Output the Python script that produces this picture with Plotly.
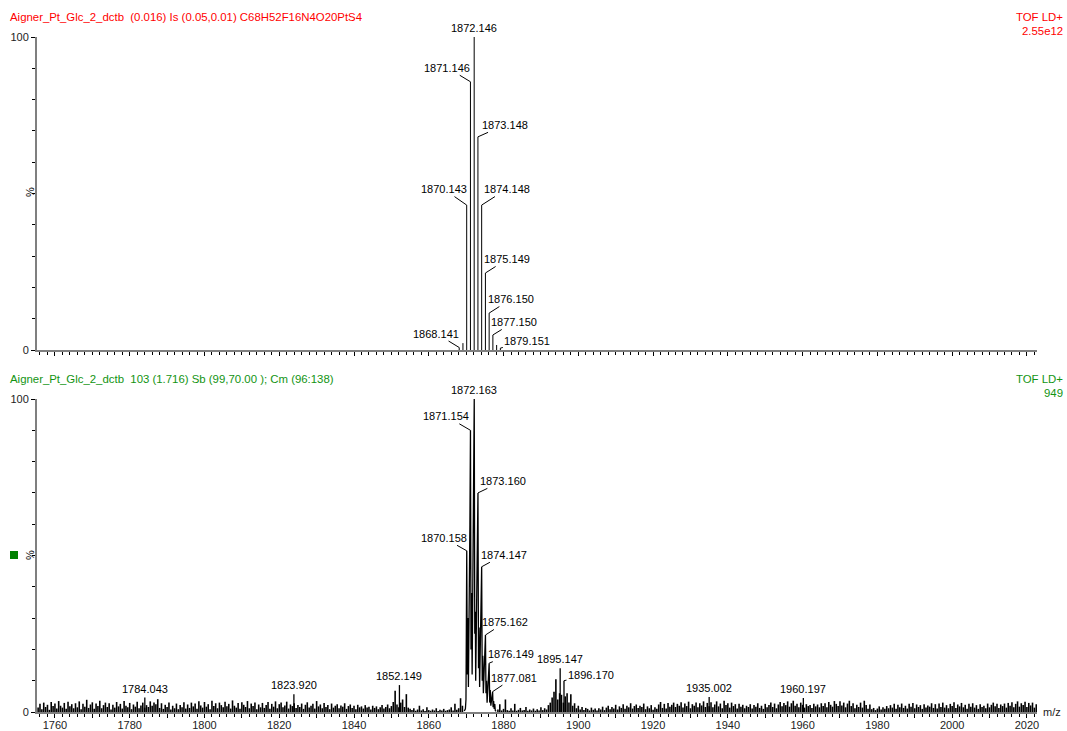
import numpy as np
import plotly.graph_objects as go

# ---------------- data ----------------
# top panel: theoretical isotope pattern (stick spectrum)
top_mz = [1868.141, 1869.14, 1870.143, 1871.146, 1872.146, 1873.148, 1874.148,
          1875.149, 1876.150, 1877.150, 1878.15, 1879.151]
top_int = [0.8, 2.2, 46.3, 85.7, 100.0, 68.1, 46.3, 24.6, 11.8, 4.8, 1.6, 0.6]

# top labels: (m/z, intensity) for labelled peaks
top_lab_mz = [1872.146, 1871.146, 1873.148, 1870.143, 1874.148, 1875.149,
              1876.150, 1877.150, 1879.151, 1868.141]
top_lab_int = [100.0, 85.7, 68.1, 46.3, 46.3, 24.6, 11.8, 4.8, 0.6, 0.8]

# bottom panel: measured spectrum, isotope cluster profile
clu_mz = [1869.5, 1869.8, 1869.95, 1870.05, 1870.158, 1870.3, 1870.45, 1870.6, 1870.75,
          1870.9, 1871.0, 1871.154, 1871.3, 1871.45, 1871.6, 1871.75, 1871.9, 1872.0,
          1872.163, 1872.3, 1872.45, 1872.55, 1872.7, 1872.85, 1873.0, 1873.160, 1873.3,
          1873.45, 1873.6, 1873.75, 1873.9, 1874.0, 1874.147, 1874.3, 1874.45, 1874.6,
          1874.75, 1874.9, 1875.0, 1875.162, 1875.3, 1875.45, 1875.6, 1875.75, 1875.9,
          1876.0, 1876.149, 1876.3, 1876.45, 1876.6, 1876.75, 1876.9, 1877.0, 1877.081,
          1877.2, 1877.35, 1877.5, 1877.65, 1877.8, 1878.0]
clu_int = [0.3, 1.0, 4.0, 30.0, 51.5, 12.0, 30.0, 8.0, 22.0,
           40.0, 60.0, 90.0, 20.0, 38.0, 12.0, 30.0, 55.0, 80.0,
           100.0, 25.0, 32.0, 10.0, 28.0, 45.0, 62.0, 70.0, 14.0,
           27.0, 8.0, 20.0, 35.0, 44.0, 46.4, 10.0, 18.0, 6.0,
           12.0, 20.0, 24.0, 24.6, 6.0, 10.0, 3.0, 8.0, 13.0,
           15.0, 15.6, 3.0, 7.0, 2.0, 4.0, 5.0, 6.0, 6.5,
           1.5, 3.5, 1.0, 2.5, 0.5, 0.2]

# bottom: labelled peaks
bot_lab_mz = [1872.163, 1871.154, 1873.160, 1870.158, 1874.147, 1875.162, 1876.149,
              1877.081, 1852.149, 1784.043, 1823.920, 1895.147, 1896.170, 1935.002,
              1960.197]
bot_lab_int = [100.0, 90.0, 70.0, 51.5, 46.4, 24.6, 15.6, 6.5, 8.6, 4.6, 5.7, 14.0,
               10.0, 4.8, 4.5]

# bottom: baseline noise, every 0.5 m/z starting at 1755.5 (values in %)
noise_start = 1755.5
noise_int = [
    1.4, 2.6, 0.9, 3.0, 1.6, 2.3, 0.7, 3.2, 1.9, 2.7, 1.1, 3.5, 2.0, 1.4, 2.9, 1.0, 3.3, 1.8, 2.5, 1.2,
    2.8, 1.5, 3.4, 0.9, 2.6, 1.7, 3.9, 1.3, 2.4, 3.1, 1.0, 2.7, 1.9, 3.6, 1.2, 2.2, 3.0, 1.6, 2.8, 0.8,
    2.3, 1.4, 3.2, 1.8, 2.6, 1.1, 3.5, 2.0, 1.5, 2.9, 0.9, 2.4, 1.7, 3.3, 1.2, 2.1, 3.0, 1.4, 2.2, 1.6,
    3.4, 2.0, 3.0, 2.5, 4.1, 1.3, 2.8, 1.0, 2.3, 1.6, 3.0, 0.8, 2.0, 1.2, 2.7, 0.9, 2.2, 1.5, 3.1, 1.1,
    2.4, 1.3, 3.0, 1.8, 2.7, 1.0, 3.4, 2.1, 1.4, 3.2, 1.7, 2.5, 0.9, 3.6, 1.9, 2.8, 1.2, 3.0, 2.2, 1.5,
    3.3, 1.8, 2.6, 1.1, 3.7, 2.0, 1.4, 2.9, 1.0, 3.1, 2.3, 1.6, 3.5, 1.2, 2.7, 1.9, 3.0, 0.9, 2.4, 1.5,
    2.9, 1.3, 2.2, 3.2, 1.0, 2.6, 1.7, 3.4, 1.2, 2.5, 3.0, 1.5, 2.1, 3.3, 1.1, 2.4, 1.9, 2.8, 1.3, 2.2,
    1.6, 2.7, 1.0, 2.3, 3.1, 1.4, 2.0, 2.6, 1.1, 3.5, 1.8, 2.4, 1.2, 2.9, 1.6, 2.2, 0.9, 2.7, 1.4, 2.0,
    2.5, 1.2, 2.1, 1.7, 2.8, 1.0, 1.9, 2.4, 1.3, 2.0, 0.9, 2.3, 1.5, 1.8, 1.1, 2.2, 1.4, 1.7, 0.8, 2.0,
    1.3, 1.8, 0.9, 1.5, 2.2, 1.1, 1.6, 2.4, 1.2, 1.9, 3.2, 6.8, 2.4, 1.5, 3.0, 4.0, 1.6, 5.7, 1.4, 1.0,
    0.6, 1.2, 0.4, 0.8, 2.0, 0.5, 0.9, 0.3, 1.5, 0.6, 0.4, 0.8, 0.5, 1.2, 0.3, 0.7, 0.5, 1.0, 0.4, 0.6,
    0.8, 1.5, 0.5, 2.6, 0.7, 1.2, 4.4, 2.0, 0.0, 0.0, 0.0, 0.0, 0.0, 0.0, 0.0, 0.0, 0.0, 0.0, 0.0, 0.0,
    0.0, 0.0, 0.0, 0.0, 0.0, 0.0, 0.8, 2.5, 0.5, 1.0, 4.0, 0.6, 0.4, 1.2, 0.5, 2.6, 0.4, 0.7, 1.3, 0.5,
    0.6, 1.6, 0.4, 0.8, 0.5, 1.1, 0.4, 0.9, 0.5, 1.5, 0.6, 1.2, 0.8, 2.2, 3.0, 4.6, 6.5, 10.5, 4.0, 6.0,
    5.5, 3.0, 5.0, 6.0, 3.0, 5.7, 2.0, 2.8, 1.2, 2.0, 0.8, 1.6, 0.6, 1.3, 1.0, 0.5, 1.4, 0.7, 1.1, 0.5,
    1.2, 0.8, 1.7, 0.6, 1.4, 2.0, 0.9, 1.6, 1.1, 2.3, 0.8, 1.8, 1.3, 2.5, 1.0, 2.0, 1.5, 2.8, 1.1, 1.9,
    2.4, 1.3, 2.0, 1.6, 2.7, 0.9, 1.8, 1.2, 2.2, 0.7, 1.5, 1.0, 2.4, 3.2, 1.3, 2.6, 1.1, 2.9, 1.7, 2.3,
    3.0, 1.6, 2.6, 2.0, 3.1, 1.4, 2.7, 1.9, 3.3, 1.2, 2.5, 2.0, 3.0, 1.5, 2.8, 2.1, 3.4, 1.6, 2.9, 1.8,
    3.1, 1.5, 2.4, 3.4, 1.8, 2.7, 1.2, 3.6, 2.2, 2.8, 1.4, 3.0, 1.9, 2.5, 1.1, 2.6, 1.7, 2.3, 1.2, 2.0,
    1.6, 2.5, 1.1, 2.2, 1.7, 2.8, 1.3, 2.0, 1.0, 2.6, 1.5, 2.2, 3.0, 1.6, 2.7, 1.2, 2.4, 3.2, 1.8, 2.9,
    2.2, 3.4, 1.7, 2.8, 3.6, 2.0, 2.6, 1.5, 3.0, 2.3, 1.4, 2.5, 1.9, 2.2, 1.3, 2.6, 1.8, 2.4, 1.5, 2.8,
    1.9, 2.8, 1.5, 3.2, 2.3, 1.7, 3.5, 2.6, 1.9, 3.4, 2.1, 3.0, 1.5, 2.7, 3.6, 1.9, 2.8, 1.2, 2.3, 1.6,
    3.0, 1.4, 3.6, 2.2, 1.0, 2.4, 0.9, 1.3, 0.6, 1.1, 1.8, 0.8, 1.5, 1.0, 1.9, 1.2, 2.2, 1.4, 2.6, 1.0,
    2.3, 1.5, 2.7, 1.3, 2.0, 1.1, 2.6, 1.7, 2.9, 1.2, 2.4, 1.6, 2.2, 1.0, 2.5, 1.4, 2.1, 1.7, 2.8, 1.3,
    2.5, 1.1, 2.7, 1.6, 3.0, 1.4, 2.2, 1.2, 2.6, 1.9, 3.1, 1.3, 2.4, 1.8, 2.9, 1.5, 2.3, 1.0, 2.6, 1.7,
    2.8, 1.4, 2.2, 1.0, 2.5, 1.6, 2.0, 1.2, 2.7, 1.5, 2.3, 3.0, 1.8, 2.6, 1.3, 2.4, 1.9, 2.7, 1.4, 2.9,
    2.0, 3.1, 1.5, 2.6, 3.4, 1.7, 2.8, 2.2, 3.3, 1.6, 2.9, 2.1, 3.0, 1.4, 2.5,
]

x_tick_vals = [1760, 1770, 1780, 1790, 1800, 1810, 1820, 1830, 1840, 1850, 1860, 1870,
               1880, 1890, 1900, 1910, 1920, 1930, 1940, 1950, 1960, 1970, 1980, 1990,
               2000, 2010, 2020]
x_tick_text = ["1760", "", "1780", "", "1800", "", "1820", "", "1840", "", "1860", "",
               "1880", "", "1900", "", "1920", "", "1940", "", "1960", "", "1980", "",
               "2000", "", "2020"]

header_top = "Aigner_Pt_Glc_2_dctb  (0.016) Is (0.05,0.01) C68H52F16N4O20PtS4"
header_bot = "Aigner_Pt_Glc_2_dctb  103 (1.716) Sb (99,70.00 ); Cm (96:138)"
right_top = ["TOF LD+", "2.55e12"]
right_bot = ["TOF LD+", "949"]

# ---------------- styling ----------------
FONT = "Liberation Sans, Arial, sans-serif"
RED = "#ff0000"
GREEN = "#129412"
X_RANGE = [1755.2, 2022.7]

W, H = 1067, 731
ML, MT = 37, 37
MR = W - 1037
MB = H - 712
PW, PH = W - ML - MR, H - MT - MB


def px_x(px):
    """reference-image pixel x -> paper fraction"""
    return (px - ML) / PW


def px_y(py):
    """reference-image pixel y -> paper fraction"""
    return (H - MB - py) / PH


top_dom = [px_y(350), 1.0]
bot_dom = [0.0, px_y(399)]


def sticks(xs, ys):
    sx, sy = [], []
    for xv, yv in zip(xs, ys):
        sx += [xv, xv, None]
        sy += [0, yv, None]
    return sx, sy


fig = go.Figure()

# top sticks
tx, ty = sticks(top_mz, top_int)
fig.add_trace(go.Scatter(x=tx, y=ty, mode="lines", line=dict(color="black", width=1),
                         xaxis="x", yaxis="y", hoverinfo="skip", showlegend=False))

# bottom noise sticks (outside cluster)
noise_mz = noise_start + 0.5 * np.arange(len(noise_int))
keep = [(m < 1869.5 or m > 1878.0) and h > 0 for m, h in zip(noise_mz, noise_int)]
nx, ny = sticks([m for m, k in zip(noise_mz, keep) if k], [h for h, k in zip(noise_int, keep) if k])
fig.add_trace(go.Scatter(x=nx, y=ny, mode="lines", line=dict(color="black", width=1.6),
                         xaxis="x2", yaxis="y2", hoverinfo="skip", showlegend=False))

# bottom labelled noise peaks as sticks
lx, ly = sticks(bot_lab_mz[8:], bot_lab_int[8:])
fig.add_trace(go.Scatter(x=lx, y=ly, mode="lines", line=dict(color="black", width=1.3),
                         xaxis="x2", yaxis="y2", hoverinfo="skip", showlegend=False))

# bottom cluster profile
fig.add_trace(go.Scatter(x=clu_mz, y=clu_int, mode="lines", line=dict(color="black", width=1.3),
                         xaxis="x2", yaxis="y2", hoverinfo="skip", showlegend=False))

ann = []
lab_font = dict(family=FONT, size=11, color="black")

# top label offsets (pixels) - None = plain label above peak
top_off = [None, (-23, -14), (27, -12), (-23, -16), (25, -16), (22, -14),
           (22, -14), (21, -13), (27, -7), (-23, -14)]
for m, h, off in zip(top_lab_mz, top_lab_int, top_off):
    if off is None:
        ann.append(dict(x=m, y=h, xref="x", yref="y", text=f"{m:.3f}", showarrow=False,
                        yanchor="bottom", yshift=1, font=lab_font))
    else:
        ann.append(dict(x=m, y=h, xref="x", yref="y", text=f"{m:.3f}", showarrow=True,
                        arrowhead=0, arrowwidth=1, arrowcolor="black", ax=off[0], ay=off[1],
                        font=lab_font))

bot_off = [None, (-24, -14), (25, -12), (-23, -13), (22, -12), (20, -13), (22, -9),
           (21, -14), None, None, None, None, (27, -6), None, None]
for m, h, off in zip(bot_lab_mz, bot_lab_int, bot_off):
    if off is None:
        ann.append(dict(x=m, y=h, xref="x2", yref="y2", text=f"{m:.3f}", showarrow=False,
                        yanchor="bottom", yshift=1, font=lab_font))
    else:
        ann.append(dict(x=m, y=h, xref="x2", yref="y2", text=f"{m:.3f}", showarrow=True,
                        arrowhead=0, arrowwidth=1, arrowcolor="black", ax=off[0], ay=off[1],
                        font=lab_font))

hdr_font_r = dict(family=FONT, size=11.4, color=RED)
hdr_font_g = dict(family=FONT, size=11.4, color=GREEN)
ann += [
    dict(x=px_x(8), y=px_y(17), xref="paper", yref="paper", text=header_top, showarrow=False,
         xanchor="left", yanchor="middle", font=hdr_font_r),
    dict(x=px_x(1065), y=px_y(17), xref="paper", yref="paper", text=right_top[0], showarrow=False,
         xanchor="right", yanchor="middle", font=hdr_font_r),
    dict(x=px_x(1065), y=px_y(31), xref="paper", yref="paper", text=right_top[1], showarrow=False,
         xanchor="right", yanchor="middle", font=hdr_font_r),
    dict(x=px_x(8), y=px_y(379), xref="paper", yref="paper", text=header_bot, showarrow=False,
         xanchor="left", yanchor="middle", font=hdr_font_g),
    dict(x=px_x(1065), y=px_y(379), xref="paper", yref="paper", text=right_bot[0], showarrow=False,
         xanchor="right", yanchor="middle", font=hdr_font_g),
    dict(x=px_x(1065), y=px_y(393), xref="paper", yref="paper", text=right_bot[1], showarrow=False,
         xanchor="right", yanchor="middle", font=hdr_font_g),
    dict(x=px_x(30), y=px_y(192), xref="paper", yref="paper", text="%", showarrow=False,
         xanchor="center", yanchor="middle",
         textangle=-90, font=dict(family=FONT, size=11, color="black")),
    dict(x=px_x(30), y=px_y(555), xref="paper", yref="paper", text="%", showarrow=False,
         xanchor="center", yanchor="middle",
         textangle=-90, font=dict(family=FONT, size=11, color="black")),
    dict(x=px_x(1041), y=px_y(712), xref="paper", yref="paper", text="m/z", showarrow=False,
         xanchor="left", yanchor="middle", font=dict(family=FONT, size=11, color="#222")),
]

xcommon = dict(range=X_RANGE, showline=True, linecolor="#7f7f7f", linewidth=1.5,
               ticks="outside", ticklen=4, tickcolor="black", tickwidth=1,
               tickvals=x_tick_vals, ticktext=x_tick_text,
               minor=dict(ticks="outside", ticklen=3, tickcolor="black", tickmode="linear",
                          tick0=1760, dtick=2),
               showgrid=False, zeroline=False, automargin=False,
               tickfont=dict(family=FONT, size=11, color="#222"))
ycommon = dict(range=[0, 100], showline=True, linecolor="#7f7f7f", linewidth=2,
               ticks="outside", ticklen=4, tickcolor="black", tickwidth=1,
               tickvals=[0, 100], ticktext=["0", "100"],
               minor=dict(ticks="outside", ticklen=3, tickcolor="black", tickmode="linear",
                          tick0=0, dtick=10),
               showgrid=False, zeroline=False, ticklabelstandoff=0, automargin=False,
               tickfont=dict(family=FONT, size=11, color="#222"))

fig.update_layout(
    width=W, height=H,
    margin=dict(l=ML, r=MR, t=MT, b=MB, autoexpand=False),
    paper_bgcolor="white", plot_bgcolor="white",
    showlegend=False,
    xaxis=dict(**xcommon, domain=[0, 1], anchor="y", showticklabels=False),
    yaxis=dict(**ycommon, domain=top_dom, anchor="x"),
    xaxis2=dict(**xcommon, domain=[0, 1], anchor="y2", showticklabels=True,
                ticklabelstandoff=-2),
    yaxis2=dict(**ycommon, domain=bot_dom, anchor="x2"),
    annotations=ann,
    shapes=[dict(type="rect", xref="paper", yref="paper",
                 x0=px_x(10), x1=px_x(18), y0=px_y(559), y1=px_y(551),
                 fillcolor="#008000", line=dict(width=0))],
)

# remove the browser's default 8px body margin so the figure sits at the page origin
fig.write_html("out.html", config={"displayModeBar": False},
               post_script="document.body.style.margin='0';document.body.style.overflow='hidden';")
